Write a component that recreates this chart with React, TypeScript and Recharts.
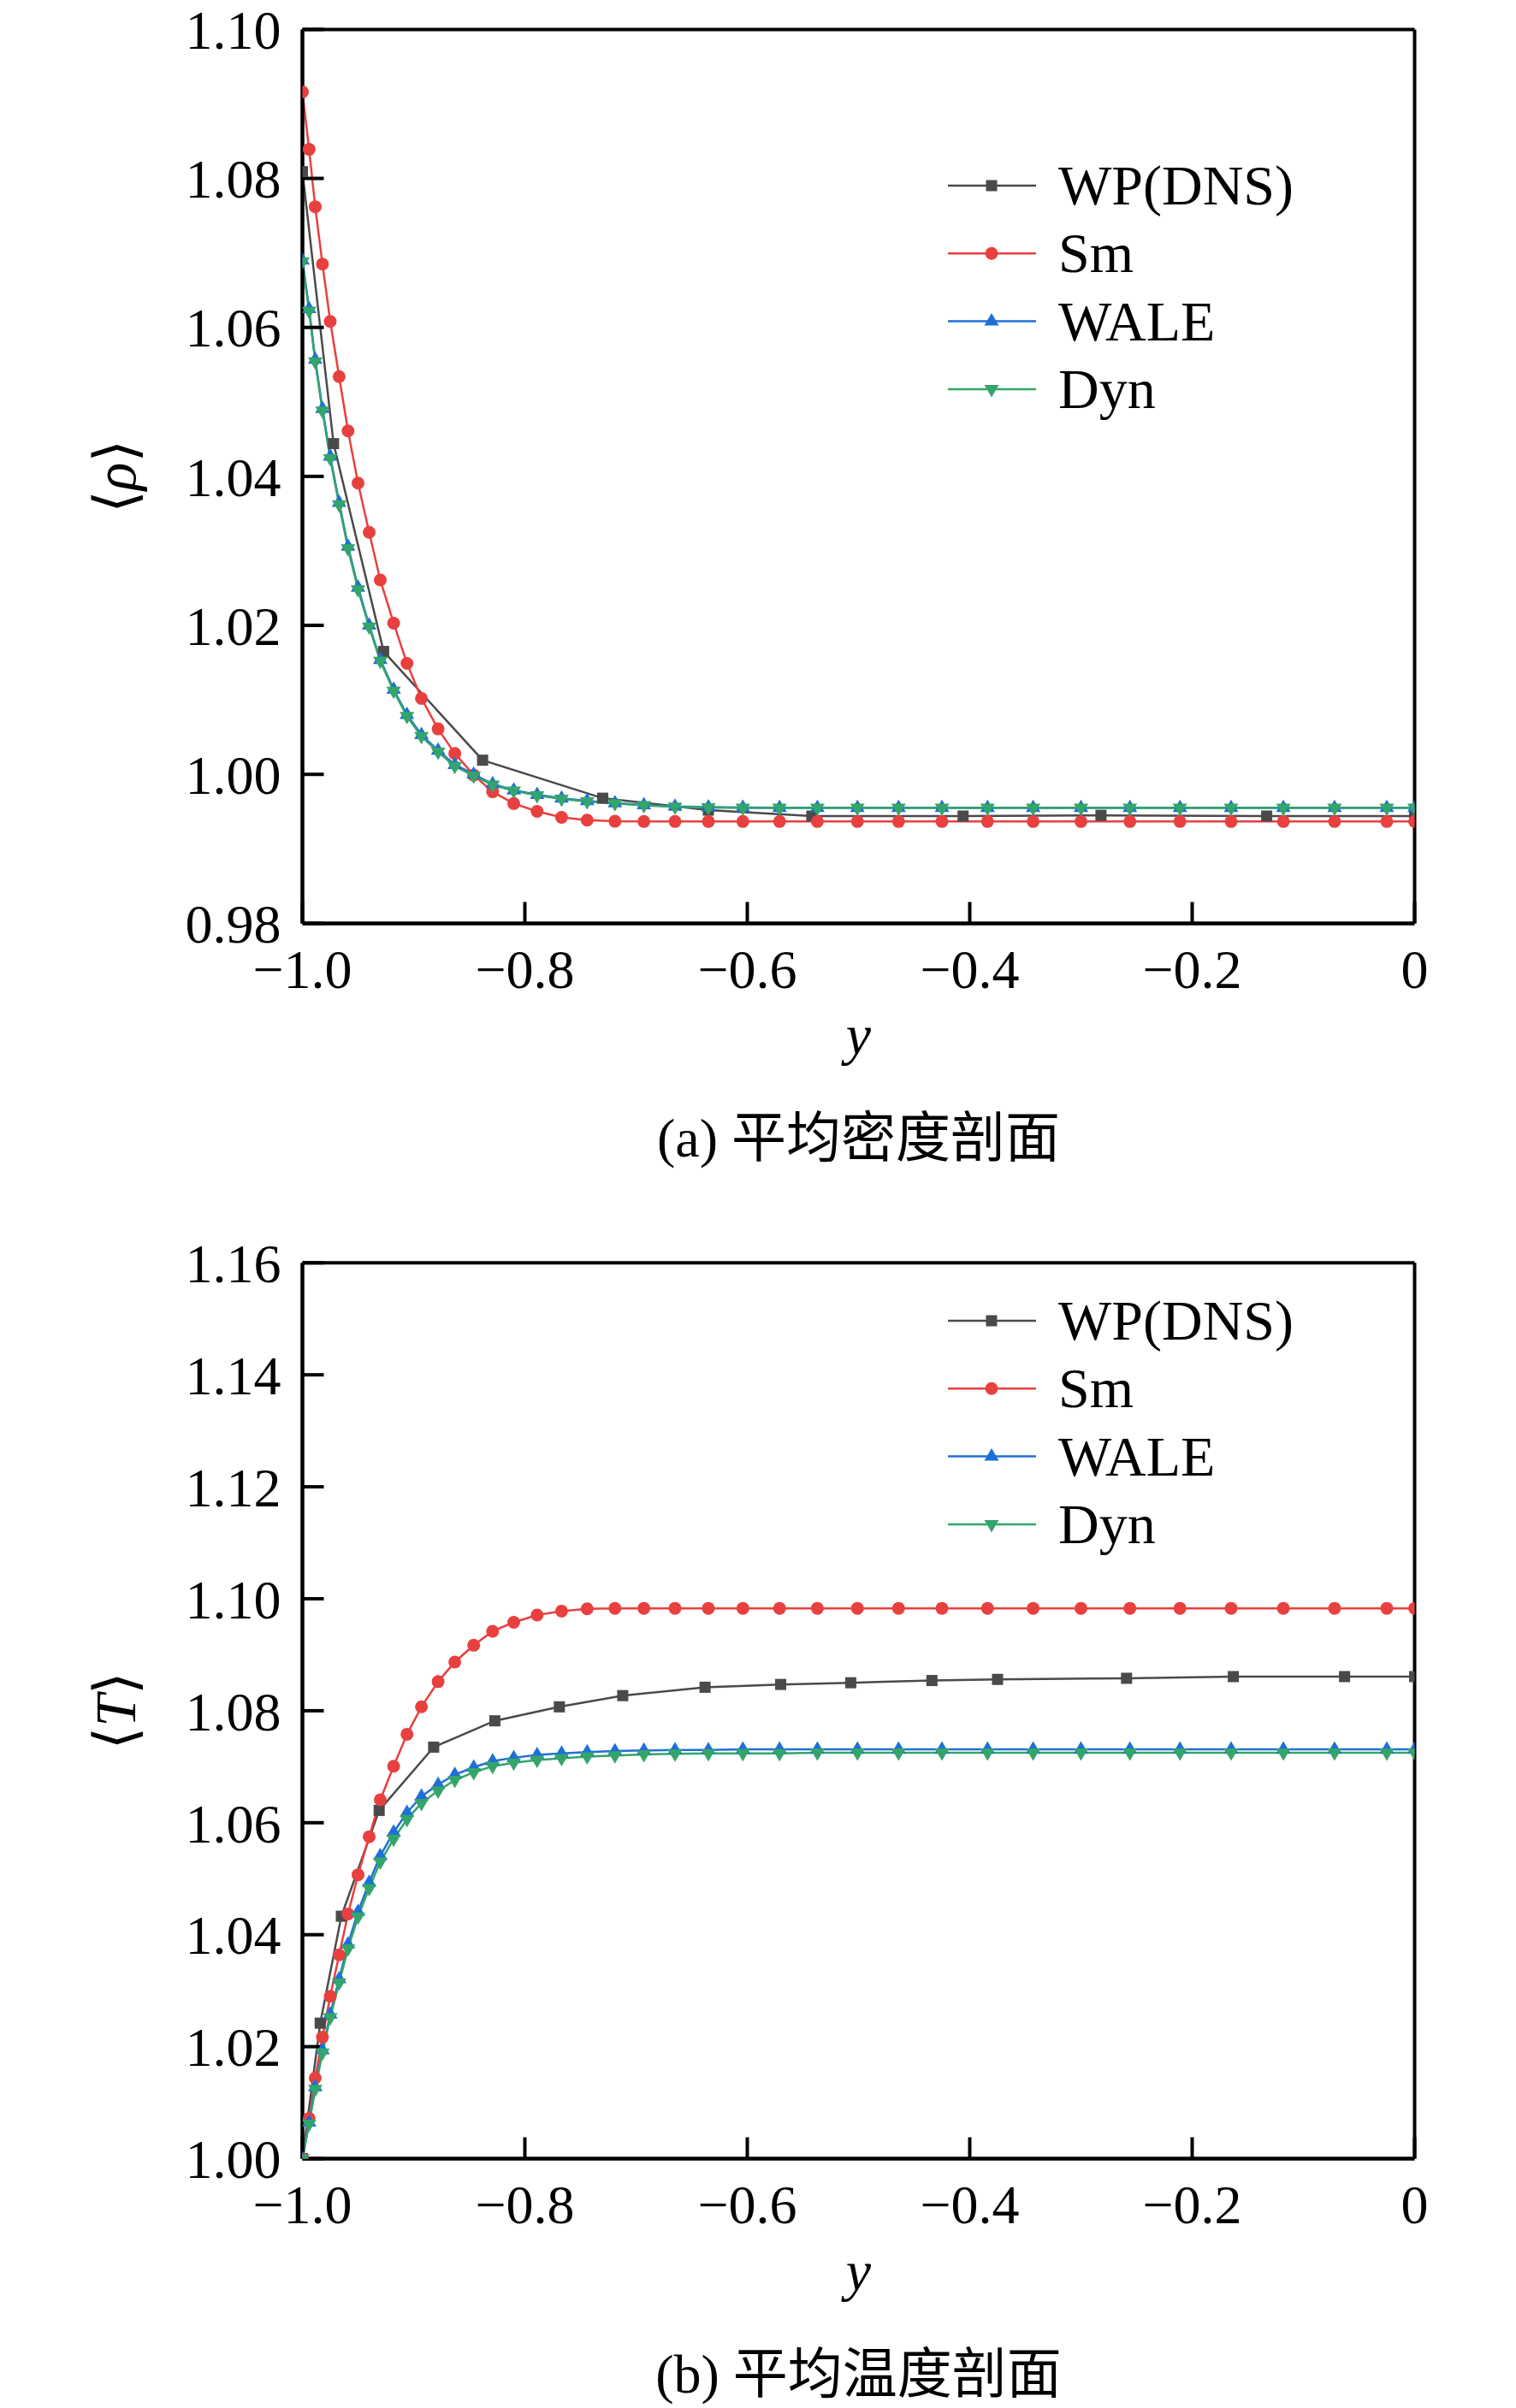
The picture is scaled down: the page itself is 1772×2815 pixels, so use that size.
import React from 'react';
import { LineChart, Line, XAxis, YAxis, Legend, ReferenceLine } from 'recharts';

const SERIF = '"Liberation Serif", "Times New Roman", serif';
const CJK = '"Noto Sans CJK SC", sans-serif';
const BRACKET = '"DejaVu Serif", "DejaVu Sans", serif';

// shared LES grid (wall at y = -1, centre at y = 0)
const lesY = [
  -1.0, -0.994, -0.9885, -0.982, -0.975, -0.967, -0.959, -0.95, -0.94, -0.93,
  -0.918, -0.906, -0.893, -0.878, -0.863, -0.846, -0.829, -0.81, -0.789, -0.767,
  -0.744, -0.719, -0.693, -0.665, -0.635, -0.604, -0.571, -0.537, -0.501, -0.464,
  -0.425, -0.384, -0.343, -0.3, -0.256, -0.211, -0.165, -0.118, -0.072, -0.025, 0,
];

// (a) mean density
const rhoDnsY = [-1.0, -0.972, -0.927, -0.838, -0.73, -0.635, -0.542, -0.406, -0.282, -0.133, 0];
const rhoDns = [1.0809, 1.0444, 1.0165, 1.0019, 0.9968, 0.9952, 0.9944, 0.9944, 0.9945, 0.9944, 0.9944];
const rhoSm = [
  1.0916, 1.0839, 1.0762, 1.0685, 1.0608, 1.0534, 1.0461, 1.0391, 1.0325, 1.0261,
  1.0203, 1.0149, 1.0102, 1.0061, 1.0028, 0.9999, 0.99766, 0.99608, 0.99503, 0.99422,
  0.99386, 0.9937, 0.99367, 0.99367, 0.99367, 0.99367, 0.99367, 0.99367, 0.99367, 0.99367,
  0.99367, 0.99367, 0.99367, 0.99367, 0.99367, 0.99367, 0.99367, 0.99367, 0.99367, 0.99367, 0.99367,
];
const rhoWale = [
  1.069, 1.0625, 1.0557, 1.0491, 1.0427, 1.0365, 1.0306, 1.0251, 1.02, 1.0154,
  1.0114, 1.008, 1.0053, 1.0032, 1.0013, 1.0, 0.9987, 0.99788, 0.99726, 0.99677,
  0.99643, 0.99614, 0.9959, 0.9957, 0.99561, 0.99555, 0.99553, 0.99553, 0.99553, 0.99553,
  0.99553, 0.99553, 0.99553, 0.99553, 0.99553, 0.99553, 0.99553, 0.99553, 0.99553, 0.99553, 0.99553,
];
const rhoDyn = [
  1.0688, 1.0622, 1.0554, 1.0488, 1.0424, 1.0362, 1.0303, 1.0248, 1.0198, 1.0152,
  1.0112, 1.0078, 1.0051, 1.003, 1.0011, 0.9998, 0.99859, 0.99778, 0.99717, 0.99669,
  0.99636, 0.99608, 0.99584, 0.99564, 0.99556, 0.9955, 0.99548, 0.99548, 0.99548, 0.99548,
  0.99548, 0.99548, 0.99548, 0.99548, 0.99548, 0.99548, 0.99548, 0.99548, 0.99548, 0.99548, 0.99548,
];

// (b) mean temperature
const tDnsY = [
  -1.0, -0.984, -0.965, -0.931, -0.882, -0.827, -0.769, -0.712, -0.638, -0.57,
  -0.507, -0.434, -0.375, -0.259, -0.163, -0.063, 0,
];
const tDns = [
  1.0, 1.0242, 1.0433, 1.0622, 1.0735, 1.0782, 1.0807, 1.0827, 1.0842, 1.0847,
  1.085, 1.0854, 1.0856, 1.0858, 1.0861, 1.0861, 1.0861,
];
const tSm = [
  1.0, 1.0072, 1.0144, 1.0217, 1.029, 1.0364, 1.0437, 1.0507, 1.0575, 1.0641,
  1.0701, 1.0758, 1.0807, 1.0852, 1.0887, 1.0917, 1.0942, 1.0958, 1.0971, 1.0978,
  1.0982, 1.0983, 1.0983, 1.0983, 1.0983, 1.0983, 1.0983, 1.0983, 1.0983, 1.0983,
  1.0983, 1.0983, 1.0983, 1.0983, 1.0983, 1.0983, 1.0983, 1.0983, 1.0983, 1.0983, 1.0983,
];
const tWale = [
  1.0, 1.0065, 1.0128, 1.0194, 1.0258, 1.0321, 1.0383, 1.0441, 1.0493, 1.0541,
  1.0583, 1.0618, 1.0647, 1.0668, 1.0686, 1.0699, 1.071, 1.0716, 1.0721, 1.0724,
  1.0726, 1.0728, 1.0729, 1.073, 1.073, 1.0731, 1.0731, 1.0731, 1.0731, 1.0731,
  1.0731, 1.0731, 1.0731, 1.0731, 1.0731, 1.0731, 1.0731, 1.0731, 1.0731, 1.0731, 1.0731,
];
const tDyn = [
  1.0, 1.0062, 1.0124, 1.0189, 1.0252, 1.0314, 1.0375, 1.0432, 1.0483, 1.053,
  1.0571, 1.0606, 1.0635, 1.0657, 1.0676, 1.069, 1.0701, 1.0707, 1.0712, 1.0715,
  1.0718, 1.072, 1.0722, 1.0723, 1.0724, 1.0724, 1.0724, 1.0725, 1.0725, 1.0725,
  1.0725, 1.0725, 1.0725, 1.0725, 1.0725, 1.0725, 1.0725, 1.0725, 1.0725, 1.0725, 1.0725,
];

const xTicks = [-1, -0.8, -0.6, -0.4, -0.2, 0];
const rhoTicks = [0.98, 1.0, 1.02, 1.04, 1.06, 1.08, 1.1];
const tTicks = [1.0, 1.02, 1.04, 1.06, 1.08, 1.1, 1.12, 1.14, 1.16];

const SERIES = [
  { name: 'WP(DNS)', color: '#4a4a4a', shape: 'square' },
  { name: 'Sm', color: '#e8403f', shape: 'circle' },
  { name: 'WALE', color: '#1f6fd8', shape: 'up' },
  { name: 'Dyn', color: '#34a56a', shape: 'down' },
];

const zip = (ys: number[], vs: number[]) => ys.map((y, i) => ({ y, v: vs[i] }));

const PLOT_LEFT = 353.5;
const PLOT_W = 1300;
const CHART_W = 1772;

function Marker({ cx, cy, shape, color }: any) {
  if (cx == null || cy == null) return null;
  if (shape === 'square') return <rect x={cx - 6.5} y={cy - 6.5} width={13} height={13} fill={color} />;
  if (shape === 'circle') return <circle cx={cx} cy={cy} r={7.5} fill={color} />;
  if (shape === 'up')
    return <polygon points={`${cx},${cy - 9.5} ${cx + 8.5},${cy + 5} ${cx - 8.5},${cy + 5}`} fill={color} />;
  return <polygon points={`${cx},${cy + 9.5} ${cx + 8.5},${cy - 5} ${cx - 8.5},${cy - 5}`} fill={color} />;
}

function LegendBox() {
  return (
    <svg width={560} height={340} style={{ display: 'block' }}>
      {SERIES.map((s, i) => {
        const y = 57 + i * 79.3;
        return (
          <g key={s.name}>
            <line x1={28} x2={131} y1={y} y2={y} stroke={s.color} strokeWidth={2.5} />
            <Marker cx={79} cy={y} shape={s.shape} color={s.color} />
            <text x={157} y={y + 22} fontSize={66} fontFamily={SERIF} fill="#000">
              {s.name}
            </text>
          </g>
        );
      })}
    </svg>
  );
}

const fmtX = (v: number) => (v === 0 ? '0' : '\u2212' + Math.abs(v).toFixed(1));

function Panel({ top, height, plotTop, plotBottom, domain, ticks, sym, caption, legendTop, series }: any) {
  const mid = (plotTop + plotBottom) / 2;
  const cx = PLOT_LEFT + PLOT_W / 2;
  const axisStyle = { stroke: '#000', strokeWidth: 4.5 };
  const tickStyle = { stroke: '#000', strokeWidth: 4 };
  const tickFont = { fontSize: 64, fill: '#000', fontFamily: SERIF };

  const bottomLabel = () => (
    <g>
      <text x={cx} y={plotBottom + 153} textAnchor="middle" fontSize={66} fontStyle="italic" fontFamily={SERIF} fill="#000">
        y
      </text>
      <text x={cx} y={plotBottom + 273} textAnchor="middle" fontSize={64} fill="#000">
        <tspan fontFamily={SERIF}>{caption[0]}</tspan>
        <tspan fontFamily={CJK}>{caption[1]}</tspan>
      </text>
    </g>
  );

  const sideLabel = () => (
    <text x={158} y={mid} transform={`rotate(-90 158 ${mid})`} textAnchor="middle" fontSize={68} fill="#000">
      <tspan fontFamily={BRACKET}>{'\u27E8'}</tspan>
      <tspan fontFamily={SERIF} fontStyle="italic">{sym}</tspan>
      <tspan fontFamily={BRACKET}>{'\u27E9'}</tspan>
    </text>
  );

  return (
    <div style={{ position: 'absolute', left: 0, top }}>
      <LineChart
        width={CHART_W}
        height={height}
        margin={{ top: plotTop, right: CHART_W - PLOT_LEFT - PLOT_W, left: PLOT_LEFT - 100, bottom: height - plotBottom - 100 }}
      >
        <XAxis
          dataKey="y"
          type="number"
          domain={[-1, 0]}
          ticks={xTicks}
          interval={0}
          allowDataOverflow
          height={100}
          tickFormatter={fmtX}
          tick={tickFont}
          tickSize={-25}
          tickMargin={55}
          tickLine={tickStyle}
          axisLine={axisStyle}
          label={{ content: bottomLabel }}
        />
        <YAxis
          type="number"
          domain={domain}
          ticks={ticks}
          interval={0}
          allowDataOverflow
          width={100}
          tickFormatter={(v: number) => v.toFixed(2)}
          tick={tickFont}
          tickSize={-25}
          tickMargin={50}
          tickLine={tickStyle}
          axisLine={axisStyle}
          label={{ content: sideLabel }}
        />
        {/* frame: top and right borders */}
        <ReferenceLine y={domain[1]} stroke="#000" strokeWidth={4} />
        <ReferenceLine x={0} stroke="#000" strokeWidth={4} />
        <Legend
          layout="horizontal"
          verticalAlign="middle"
          align="center"
          content={() => <LegendBox />}
          wrapperStyle={{ left: 1080, top: legendTop, width: 560, height: 340 }}
        />
        {SERIES.map((s, i) => (
          <Line
            key={s.name}
            data={series[i]}
            dataKey="v"
            name={s.name}
            type="linear"
            stroke={s.color}
            strokeWidth={2.5}
            dot={(p: any) => <Marker key={`${s.name}-${p.index}`} cx={p.cx} cy={p.cy} shape={s.shape} color={s.color} />}
            activeDot={false}
            isAnimationActive={false}
          />
        ))}
      </LineChart>
    </div>
  );
}

export default function App() {
  const rhoSeries = [zip(rhoDnsY, rhoDns), zip(lesY, rhoSm), zip(lesY, rhoWale), zip(lesY, rhoDyn)];
  const tSeries = [zip(tDnsY, tDns), zip(lesY, tSm), zip(lesY, tWale), zip(lesY, tDyn)];
  return (
    <div style={{ position: 'absolute', left: 0, top: 0, width: 1772, height: 2815, background: '#fff', overflow: 'hidden' }}>
      <Panel
        top={0}
        height={1400}
        plotTop={34.4}
        plotBottom={1079.4}
        domain={[0.98, 1.1]}
        ticks={rhoTicks}
        sym={'\u03C1'}
        caption={['(a) ', '平均密度剖面']}
        legendTop={160}
        series={rhoSeries}
      />
      <Panel
        top={1420}
        height={1395}
        plotTop={56.3}
        plotBottom={1103.5}
        domain={[1.0, 1.16]}
        ticks={tTicks}
        sym="T"
        caption={['(b) ', '平均温度剖面']}
        legendTop={66.7}
        series={tSeries}
      />
    </div>
  );
}
